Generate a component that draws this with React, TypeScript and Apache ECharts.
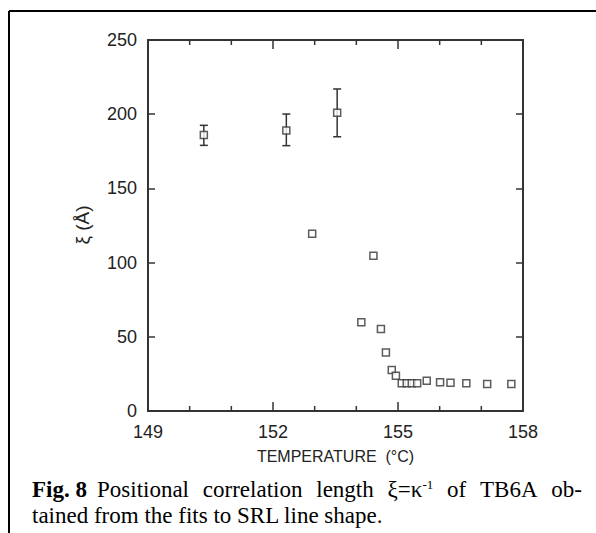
import React, { useEffect, useRef } from "react";
import * as echarts from "echarts";

// Data
const errTemps = [150.34, 152.32, 153.54];
const errXi = [186, 189, 201];
const errLow = [179, 178.8, 184.8];
const errHigh = [192.5, 200.1, 217];

const temps = [152.94, 154.12, 154.41, 154.59, 154.71, 154.85, 154.95, 155.09, 155.21, 155.33, 155.46, 155.69, 156.01, 156.26, 156.64, 157.14, 157.72];
const xiVals = [119.5, 59.8, 104.7, 55.3, 39.5, 27.6, 23.8, 18.7, 18.7, 18.7, 18.7, 20.3, 19.3, 19, 18.7, 18.2, 18.2];

const xLabelValues = [149, 152, 155, 158];
const xMinorTickValues = [150, 151, 153, 154, 156, 157];
const xMajorTickValues = [152, 155];
const yTicks = [0, 50, 100, 150, 200, 250];

const captionLine1Words = ["Positional", "correlation", "length", "ξ=κ|-1", "of", "TB6A", "ob-"];
const captionLine2 = "tained from the fits to SRL line shape.";

export default function App() {
  const ref = useRef<HTMLDivElement>(null);
  useEffect(() => {
    document.body.style.margin = "0";
    if (!ref.current) return;
    const chart = echarts.init(ref.current, null, { renderer: "svg" });
    const axisColor = "#333";
    const textColor = "#222";
    const sans = "'Liberation Sans', Arial, sans-serif";
    const serif = "'Liberation Serif', 'Times New Roman', serif";
    const capSize = 23;
    const supSize = 13;

    const scatterData = temps.map((t, i) => [t, xiVals[i]]);
    const errScatter = errTemps.map((t, i) => [t, errXi[i]]);
    const errData = errTemps.map((t, i) => [t, errXi[i], errLow[i], errHigh[i]]);
    const minorTickData = xMinorTickValues.map((v) => [v, 0, 250]);

    const canvas = document.createElement("canvas");
    const ctx = canvas.getContext("2d")!;
    const measure = (s: string, size: number) => {
      ctx.font = `${size}px 'Liberation Serif'`;
      return ctx.measureText(s).width;
    };
    const wordWidths = captionLine1Words.map((w) => {
      if (w.includes("|")) {
        const [a, b] = w.split("|");
        return measure(a, capSize) + measure(b, supSize);
      }
      return measure(w, capSize);
    });
    const startX = 97;
    const endX = 582;
    const totalW = wordWidths.reduce((a, b) => a + b, 0);
    const gap = (endX - startX - totalW) / (captionLine1Words.length - 1);
    let cx = startX;
    const wordEls: any[] = captionLine1Words.map((w, i) => {
      const text = w.includes("|") ? `${w.split("|")[0]}{s|${w.split("|")[1]}}` : w;
      const el = {
        type: "text",
        left: cx,
        top: 478,
        style: {
          text,
          fontFamily: serif,
          fontSize: capSize,
          fill: "#000",
          rich: { s: { fontFamily: serif, fontSize: supSize, fill: "#000", verticalAlign: "top", padding: [0, 0, 10, 0] } },
        },
      };
      cx += wordWidths[i] + gap;
      return el;
    });

    const xMajor = {
      type: "value",
      min: 149,
      max: 158,
      axisLine: { show: true, onZero: false, lineStyle: { color: axisColor, width: 2 } },
      axisTick: { show: true, inside: true, length: 9, customValues: xMajorTickValues, lineStyle: { color: axisColor, width: 1.5 } },
      splitLine: { show: false },
    };
    const baseY = {
      type: "value",
      min: 0,
      max: 250,
      interval: 50,
      axisLine: { show: true, onZero: false, lineStyle: { color: axisColor, width: 2 } },
      axisTick: { show: true, inside: true, length: 7, lineStyle: { color: axisColor, width: 1.5 } },
      splitLine: { show: false },
    };

    chart.setOption({
      animation: false,
      backgroundColor: "#fff",
      grid: { left: 148, right: 73, top: 40, bottom: 122 },
      xAxis: [
        {
          ...xMajor,
          position: "bottom",
          axisLabel: {
            show: true,
            margin: 12,
            color: textColor,
            fontSize: 18,
            fontFamily: sans,
            customValues: xLabelValues,
            formatter: (v: number) => String(Math.round(v)),
          },
          name: "TEMPERATURE  (°C)",
          nameLocation: "middle",
          nameGap: 37,
          nameTextStyle: { color: textColor, fontSize: 16, fontFamily: sans },
        },
        { ...xMajor, position: "top", axisLabel: { show: false } },
      ],
      yAxis: [
        {
          ...baseY,
          position: "left",
          axisLabel: {
            show: true,
            margin: 11,
            color: textColor,
            fontSize: 18,
            fontFamily: sans,
            formatter: (v: number) => (yTicks.includes(v) ? String(v) : ""),
          },
        },
        { ...baseY, position: "right", axisLabel: { show: false } },
      ],
      series: [
        {
          type: "custom",
          xAxisIndex: 0,
          yAxisIndex: 0,
          data: minorTickData,
          encode: { x: 0, y: [1, 2] },
          clip: false,
          silent: true,
          z: 4,
          renderItem: (params: any, api: any) => {
            const v = api.value(0);
            const b = api.coord([v, api.value(1)]);
            const t = api.coord([v, api.value(2)]);
            const len = 5;
            const st = { stroke: axisColor, lineWidth: 1.5 };
            return {
              type: "group",
              children: [
                { type: "line", shape: { x1: b[0], y1: b[1], x2: b[0], y2: b[1] - len }, style: st },
                { type: "line", shape: { x1: t[0], y1: t[1], x2: t[0], y2: t[1] + len }, style: st },
              ],
            };
          },
        },
        {
          type: "custom",
          xAxisIndex: 0,
          yAxisIndex: 0,
          data: errData,
          encode: { x: 0, y: [2, 3] },
          z: 2,
          renderItem: (params: any, api: any) => {
            const x = api.value(0);
            const lo = api.coord([x, api.value(2)]);
            const hi = api.coord([x, api.value(3)]);
            const w = 4;
            const st = { stroke: axisColor, lineWidth: 1.5 };
            return {
              type: "group",
              children: [
                { type: "line", shape: { x1: lo[0], y1: lo[1], x2: hi[0], y2: hi[1] }, style: st },
                { type: "line", shape: { x1: lo[0] - w, y1: lo[1], x2: lo[0] + w, y2: lo[1] }, style: st },
                { type: "line", shape: { x1: hi[0] - w, y1: hi[1], x2: hi[0] + w, y2: hi[1] }, style: st },
              ],
            };
          },
        },
        {
          type: "scatter",
          xAxisIndex: 0,
          yAxisIndex: 0,
          data: errScatter,
          symbol: "rect",
          symbolSize: 7,
          z: 3,
          itemStyle: { color: "#fff", borderColor: axisColor, borderWidth: 1.5 },
        },
        {
          type: "scatter",
          xAxisIndex: 0,
          yAxisIndex: 0,
          data: scatterData,
          symbol: "rect",
          symbolSize: 7,
          z: 3,
          itemStyle: { color: "#fff", borderColor: axisColor, borderWidth: 1.5 },
        },
      ],
      graphic: [
        { type: "line", shape: { x1: 9, y1: 11, x2: 596, y2: 11 }, style: { stroke: "#000", lineWidth: 2 } },
        { type: "line", shape: { x1: 9, y1: 11, x2: 9, y2: 533 }, style: { stroke: "#000", lineWidth: 2 } },
        {
          type: "text",
          x: 82,
          y: 225,
          rotation: Math.PI / 2,
          style: { text: "ξ (Å)", fontFamily: sans, fontSize: 19, fill: textColor, align: "center", verticalAlign: "middle" },
        },
        {
          type: "text",
          left: 32,
          top: 478,
          style: {
            text: "{b|Fig. 8}",
            rich: { b: { fontFamily: serif, fontWeight: "bold", fontSize: capSize, fill: "#000" } },
          },
        },
        ...wordEls,
        {
          type: "text",
          left: 32,
          top: 504,
          style: { text: captionLine2, fontFamily: serif, fontSize: capSize, fill: "#000" },
        },
      ],
    });
    return () => chart.dispose();
  }, []);
  return <div ref={ref} style={{ width: 596, height: 533 }} />;
}
